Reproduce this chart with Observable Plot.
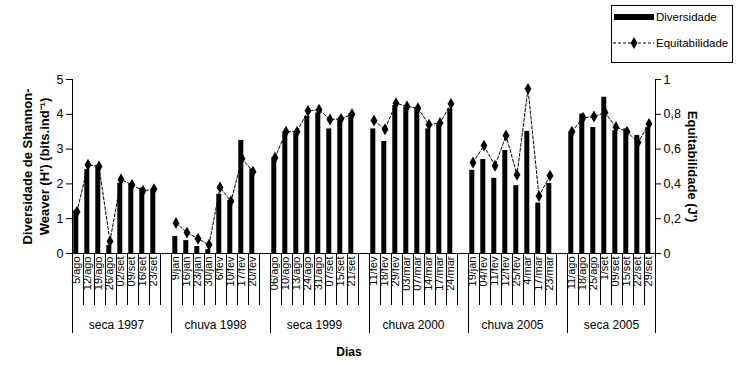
<!DOCTYPE html>
<html><head><meta charset="utf-8">
<script src="https://cdn.jsdelivr.net/npm/d3@7"></script>
<script src="https://cdn.jsdelivr.net/npm/@observablehq/plot@0.6"></script>
<style>
body{margin:0;background:#fff;font-family:"Liberation Sans",Arial,sans-serif;}
#wrap{position:relative;width:737px;height:380px;background:#fff;}
#legend{position:absolute;left:611px;top:5px;width:120px;height:56px;border:1px solid #000;background:#fff;}
</style></head><body><div id="wrap"><div id="chart"></div><div id="legend"></div></div>
<script>
const grupos = ["seca 1997","chuva 1998","seca 1999","chuva 2000","chuva 2005","seca 2005"];
const dias = [
 "5/ago","12/ago","19/ago","26/ago","02/set","09/set","16/set","23/set",
 "9/jan","16/jan","23/jan","30/jan","6/fev","10/fev","17/fev","20/fev",
 "06/ago","10/ago","13/ago","24/ago","31/ago","07/set","15/set","21/set",
 "11/fev","18/fev","29/fev","03/mar","07/mar","14/mar","17/mar","24/mar",
 "19/jan","04/fev","11/fev","12/fev","25/fev","4/mar","17/mar","23/mar",
 "11/ago","18/ago","25/ago","1/set","09/set","15/set","22/set","29/set"];
const diversidade = [
 1.24,2.41,2.53,0.23,2.02,2.00,1.88,1.84,
 0.49,0.37,0.20,0.11,1.70,1.52,3.25,2.42,
 2.75,3.49,3.51,3.94,4.04,3.58,3.84,4.01,
 3.58,3.22,4.25,4.20,4.18,3.58,3.74,4.16,
 2.39,2.70,2.16,2.96,1.95,3.51,1.45,2.01,
 3.49,4.01,3.62,4.49,3.53,3.58,3.39,3.62];
const equitabilidade = [
 0.24,0.51,0.50,0.07,0.425,0.395,0.36,0.37,
 0.175,0.12,0.085,0.05,0.38,0.30,0.545,0.47,
 0.55,0.70,0.70,0.82,0.826,0.77,0.774,0.80,
 0.764,0.714,0.864,0.845,0.835,0.74,0.75,0.86,
 0.523,0.62,0.504,0.678,0.452,0.946,0.33,0.447,
 0.70,0.78,0.787,0.81,0.726,0.70,0.638,0.745];
const ticksH = [0,1,2,3,4,5];
const ticksJ = [0,0.2,0.4,0.6,0.8,1];
const legendLabels = ["Diversidade","Equitabilidade"];
const titleLeft = "Diversidade de Shannon-\nWeaver (H') (bits.ind\u207B\u00B9)";
const titleRight = "Equitabilidade (J')";
const titleX = "Dias";

const perGroup = 8;
const rows = dias.map((d, j) => {
  const g = Math.floor(j / perGroup), k = j % perGroup;
  return {dia: d, grupo: grupos[g], slot: g * (perGroup + 1) + k, H: diversidade[j], J: equitabilidade[j]};
});
const nSlots = grupos.length * (perGroup + 1) - 1;
const boundaries = d3.range(nSlots + 1);
const groupBounds = [0, ...grupos.slice(0, -1).map((g, i) => (i + 1) * (perGroup + 1)), nSlots];
const hMax = ticksH[ticksH.length - 1], jMax = ticksJ[ticksJ.length - 1];
const jToY = v => v * hMax / jMax;
const fmtJ = v => String(+(v * jMax / hMax).toFixed(1)).replace(".", ",");

const chart = Plot.plot({
  width: 737, height: 380,
  marginTop: 79, marginBottom: 127, marginLeft: 72, marginRight: 82,
  x: {type: "linear", domain: [0, nSlots], axis: null},
  y: {domain: [0, hMax], axis: null},
  style: {fontFamily: "'Liberation Sans', Arial, sans-serif", fontSize: "12px", background: "#fff", color: "#000"},
  marks: [
    Plot.rectY(rows, {x1: d => d.slot, x2: d => d.slot + 1, y: "H", fill: "#000", insetLeft: 1.3, insetRight: 4.7}),
    Plot.line(rows, {x: d => d.slot + 0.5, y: d => jToY(d.J), z: "grupo", stroke: "#000", strokeWidth: 1, strokeDasharray: "3,2", dx: -1}),
    Plot.dot(rows, {x: d => d.slot + 0.5, y: d => jToY(d.J), symbol: "diamond", r: 3.6, fill: "#000", stroke: "none", dx: -1}),
    Plot.ruleY([0], {stroke: "#000"}),
    Plot.ruleX([0, nSlots], {stroke: "#000"}),
    Plot.ruleX(boundaries, {x: d => d, y1: () => 0, y2: () => 0, insetBottom: -52, stroke: "#000"}),
    Plot.ruleX(groupBounds, {x: d => d, y1: () => 0, y2: () => 0, insetBottom: -80, stroke: "#000"}),
    Plot.axisY({anchor: "left", ticks: ticksH, tickFormat: d => String(d), tickSize: 6, tickPadding: 3, fontSize: 12.5, label: null, stroke: "#000"}),
    Plot.axisY({anchor: "right", ticks: ticksJ.map(jToY), tickFormat: fmtJ, tickSize: 5, tickPadding: 3, fontSize: 12.5, label: null, stroke: "#000"}),
    Plot.text(rows, {x: d => d.slot + 0.5, y: () => 0, text: "dia", rotate: -90, textAnchor: "end", lineAnchor: "middle", dy: 3, dx: -1.5, fontSize: 11, fill: "#000", ariaLabel: "dias"}),
    Plot.text(grupos, {x: (d, i) => i * (perGroup + 1) + perGroup / 2, y: () => 0, text: d => d, dy: 72, fontSize: 12, fill: "#000"}),
    Plot.text([titleX], {frameAnchor: "bottom", text: d => d, dx: -15, dy: 99, lineAnchor: "middle", fontWeight: "bold", fontSize: 12, fill: "#000"}),
    Plot.text([titleLeft], {frameAnchor: "left", text: d => d, rotate: -90, dx: -37, textAnchor: "middle", lineAnchor: "middle", lineHeight: 1.3, fontWeight: "bold", fontSize: 13, fill: "#000"}),
    Plot.text([titleRight], {frameAnchor: "right", text: d => d, rotate: 90, dx: 37, textAnchor: "middle", lineAnchor: "middle", fontWeight: "bold", fontSize: 13, fill: "#000"})
  ]
});
document.getElementById("chart").appendChild(chart);
chart.querySelectorAll('g[aria-label="dias"] text').forEach(t => {
  t.setAttribute("transform", (t.getAttribute("transform") || "") + " scale(1.45,1)");
});

// legend
const lg = d3.select("#legend").append("svg").attr("width", 120).attr("height", 56)
  .style("font-family", "'Liberation Sans', Arial, sans-serif").style("font-size", "11.5px");
lg.append("rect").attr("x", 2).attr("y", 8).attr("width", 40).attr("height", 6).attr("fill", "#000");
lg.append("text").attr("x", 44).attr("y", 11).attr("dy", "0.35em").text(legendLabels[0]);
lg.append("line").attr("x1", 1).attr("x2", 42).attr("y1", 37).attr("y2", 37).attr("stroke", "#000").attr("stroke-dasharray", "3,2");
lg.append("path").attr("d", d3.symbol(d3.symbolDiamond, 40)()).attr("transform", "translate(22,37)").attr("fill", "#000");
lg.append("text").attr("x", 44).attr("y", 37).attr("dy", "0.35em").text(legendLabels[1]);
</script></body></html>
